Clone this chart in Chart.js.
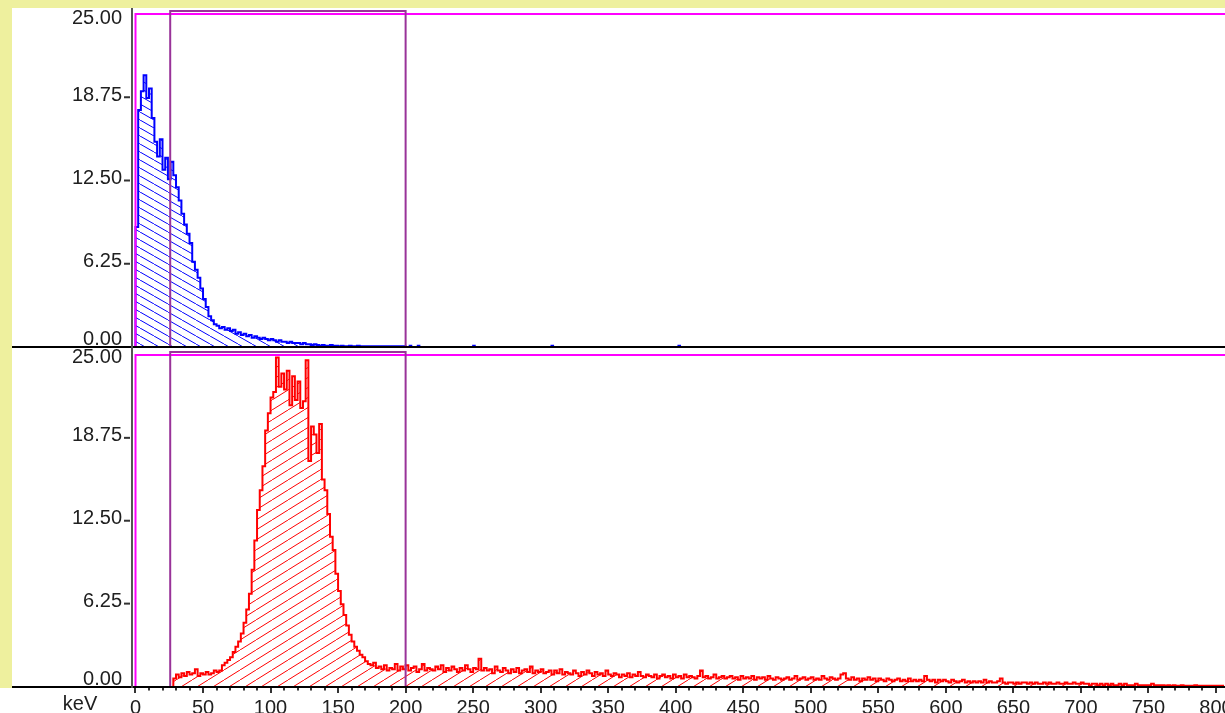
<!DOCTYPE html>
<html>
<head>
<meta charset="utf-8">
<script src="https://cdn.jsdelivr.net/npm/chart.js@4.4.1/dist/chart.umd.min.js"></script>
<style>
  html, body { margin: 0; padding: 0; background: #eef09e; }
  #wrap { width: 1225px; height: 713px; }
</style>
</head>
<body>
<div id="wrap"><canvas id="spectrum" width="1225" height="713"></canvas></div>
<script>
// counts per 2 keV channel
const binKeV = 2;

const blueStartKeV = 0;
const blueCounts = [
  9.0, 17.8, 19.2, 20.4, 18.7, 19.4, 17.2, 15.4, 14.3, 15.6,   // 0-18
  13.3, 14.2, 12.6, 13.9, 12.9, 12.0, 11.0, 10.0, 9.2, 8.5,    // 20-38
  7.8, 6.4, 5.8, 5.2, 4.4, 3.6, 3.0, 2.3, 2.0, 1.7,            // 40-58
  1.6, 1.4, 1.5, 1.3, 1.4, 1.2, 1.3, 1.0, 1.1, 0.9,            // 60-78
  1.0, 0.8, 0.9, 0.7, 0.8, 0.7, 0.6, 0.7, 0.6, 0.5,            // 80-98
  0.6, 0.5, 0.4, 0.5, 0.4, 0.4, 0.3, 0.4, 0.3, 0.3,            // 100-118
  0.3, 0.2, 0.3, 0.2, 0.2, 0.15, 0.2, 0.15, 0.1, 0.15,         // 120-138
  0.1, 0.1, 0.15, 0.1, 0.1, 0.05, 0.1, 0.05, 0.05, 0.1,        // 140-158
  0.05, 0.05, 0.1, 0.05, 0.05, 0.05, 0.05, 0.05, 0.05, 0.05,   // 160-178
  0.05, 0.05, 0.05, 0.05, 0.05, 0.05, 0.05, 0.05, 0.05, 0.05   // 180-198
];
// single stray counts past 200 keV
const blueBlipKeV = [203, 209, 250, 308, 402];
const blueBlipCounts = [0.1, 0.1, 0.1, 0.1, 0.1];

const redStartKeV = 28;
const redCounts = [
  0.6, 0.9, 0.7, 1.0, 0.8, 1.1,                                // 28-38
  0.9, 1.0, 1.3, 0.8, 1.0, 0.9, 1.1, 0.9, 1.0, 1.2,            // 40-58
  1.1, 1.2, 1.6, 1.8, 2.0, 2.2, 2.6, 3.0, 3.4, 4.0,            // 60-78
  4.8, 5.8, 7.0, 8.8, 11.0, 13.3, 14.8, 16.6, 19.3, 20.6,      // 80-98
  21.8, 22.2, 24.8, 22.6, 23.6, 22.4, 23.8, 21.2, 23.4, 21.6,  // 100-118
  23.0, 21.0, 21.5, 24.6, 17.0, 19.6, 19.0, 17.6, 19.8, 15.6,  // 120-138
  14.8, 13.0, 11.3, 10.3, 8.5, 7.2, 6.2, 5.4, 4.6, 3.9,        // 140-158
  3.4, 3.0, 2.7, 2.4, 2.2, 1.9, 1.7, 1.6, 1.8, 1.4,            // 160-178
  1.5, 1.3, 1.6, 1.2, 1.4, 1.3, 1.7, 1.2, 1.5, 1.3,            // 180-198
  1.6, 1.2, 1.4, 1.5, 1.1, 1.3, 1.7, 1.2, 1.4, 1.3,            // 200-218
  1.2, 1.5, 1.3, 1.6, 1.1, 1.4, 1.2, 1.5, 1.3, 1.1,            // 220-238
  1.4, 1.2, 1.6, 1.3, 1.1, 1.4, 1.3, 2.1, 1.2, 1.4,            // 240-258
  1.2, 1.3, 1.0, 1.5, 1.2, 1.1, 1.4, 1.2, 1.0, 1.3,            // 260-278
  1.1, 1.4, 1.0, 1.2, 1.3, 1.1, 1.5, 1.0, 1.2, 1.1,            // 280-298
  1.3, 1.0, 1.1, 1.2, 0.9, 1.2, 1.0, 1.3, 0.9, 1.1,            // 300-318
  1.0, 0.9, 1.2, 1.0, 0.8, 1.1, 0.9, 1.2, 1.0, 0.8,            // 320-338
  1.1, 0.9, 1.0, 0.8, 1.2, 0.9, 0.8, 1.0, 0.9, 0.7,            // 340-358
  0.9, 0.8, 1.0, 0.7, 0.9, 0.8, 1.1, 0.8, 0.7, 0.9,            // 360-378
  0.8, 0.7, 0.9, 0.6, 0.8, 0.9, 0.7, 0.8, 0.6, 0.9,            // 380-398
  0.7, 0.8, 0.6, 0.9, 0.7, 0.8, 0.7, 0.6, 0.8, 1.2,            // 400-418
  0.7, 0.8, 0.6, 0.7, 0.9, 0.6, 0.7, 0.8, 0.6, 0.7,            // 420-438
  0.8, 0.6, 0.7, 0.5, 0.8, 0.6, 0.7, 0.6, 0.8, 0.5,            // 440-458
  0.7, 0.6, 0.7, 0.5, 0.8, 0.6, 0.5, 0.7, 0.6, 0.5,            // 460-478
  0.6, 0.7, 0.5, 0.6, 0.8, 0.5, 0.6, 0.7, 0.5, 0.6,            // 480-498
  0.7, 0.5, 0.6, 0.5, 0.8, 0.6, 0.5, 0.7, 0.6, 0.5,            // 500-518
  0.6, 0.9, 1.0, 0.6, 0.5, 0.7, 0.5, 0.6, 0.4, 0.6,            // 520-538
  0.5, 0.7, 0.5, 0.6, 0.4, 0.6, 0.5, 0.4, 0.6, 0.5,            // 540-558
  0.4, 0.5, 0.6, 0.4, 0.5, 0.4, 0.6, 0.4, 0.5, 0.4,            // 560-578
  0.5, 0.4, 0.8, 0.5, 0.4, 0.5, 0.3, 0.5, 0.4, 0.5,            // 580-598
  0.4, 0.3, 0.5, 0.4, 0.3, 0.4, 0.5, 0.3, 0.4, 0.3,            // 600-618
  0.4, 0.3, 0.4, 0.3, 0.5, 0.3, 0.4, 0.3, 0.3, 0.4,            // 620-638
  0.6, 0.3, 0.2, 0.3, 0.3, 0.2, 0.3, 0.2, 0.3, 0.3,            // 640-658
  0.2, 0.3, 0.2, 0.3, 0.2, 0.2, 0.3, 0.2, 0.3, 0.2,            // 660-678
  0.2, 0.3, 0.2, 0.2, 0.3, 0.2, 0.2, 0.3, 0.2, 0.2,            // 680-698
  0.3, 0.2, 0.2, 0.1, 0.2, 0.2, 0.1, 0.2, 0.1, 0.2,            // 700-718
  0.1, 0.2, 0.1, 0.1, 0.2, 0.1, 0.2, 0.1, 0.1, 0.1,            // 720-738
  0.2, 0.1, 0.1, 0.1, 0.1, 0.1, 0.2, 0.1, 0.1, 0.1,            // 740-758
  0.1, 0.05, 0.1, 0.05, 0.1, 0.05, 0.05, 0.1, 0.05, 0.05,      // 760-778
  0.05, 0.05, 0.1, 0.05, 0.05, 0.05, 0.05, 0.05, 0.05, 0.05,   // 780-798
  0.05, 0.05, 0.05                                             // 800-804
];

const yTickValues = [0, 6.25, 12.5, 18.75, 25];
const xTickValues = [0, 50, 100, 150, 200, 250, 300, 350, 400, 450, 500, 550, 600, 650, 700, 750, 800];
const windowKeV = 0;          // magenta window start
const roiKeV = [25.7, 200];   // purple region of interest

const W = 1225, H = 713;
const fontFamily = '"Liberation Sans", Arial, sans-serif';
const textColor = '#202020';

function toSteps(start, counts) {
  const pts = [{ x: start, y: 0 }];
  counts.forEach((c, i) => pts.push({ x: start + i * binKeV, y: c }));
  pts.push({ x: start + counts.length * binKeV, y: counts[counts.length - 1] });
  return pts;
}

const bluePoints = toSteps(blueStartKeV, blueCounts);
bluePoints.push({ x: blueStartKeV + blueCounts.length * binKeV, y: 0 });
blueBlipKeV.forEach((k, i) => {
  bluePoints.push({ x: k, y: blueBlipCounts[i] });
  bluePoints.push({ x: k + 1.2, y: 0 });
});
const redPoints = toSteps(redStartKeV, redCounts);

function hatch(color, w, h, rising) {
  const tile = document.createElement('canvas');
  tile.width = w;
  tile.height = h;
  const c = tile.getContext('2d');
  c.strokeStyle = color;
  c.lineWidth = 1;
  c.beginPath();
  for (const dx of [-w, 0, w]) {
    if (rising) {
      c.moveTo(dx, h);
      c.lineTo(dx + w, 0);
    } else {
      c.moveTo(dx, 0);
      c.lineTo(dx + w, h);
    }
  }
  c.stroke();
  return c.createPattern(tile, 'repeat');
}

const panelsPlugin = {
  id: 'panels',
  beforeDraw(chart) {
    const ctx = chart.ctx;
    ctx.save();
    ctx.fillStyle = '#eef09e';
    ctx.fillRect(0, 0, W, H);
    ctx.fillStyle = '#ffffff';
    ctx.fillRect(12, 8, W - 12, H - 8);
    ctx.fillRect(0, 688, W, H - 688);
    ctx.restore();
  },
  afterDatasetsDraw(chart) {
    const { ctx, chartArea, scales } = chart;
    const x = scales.x;
    const ySep = scales.yTop.getPixelForValue(0);
    const yAxis = scales.yBottom.getPixelForValue(0);
    const panels = [
      { s: scales.yTop, top: 8, bottom: ySep },
      { s: scales.yBottom, top: ySep, bottom: yAxis }
    ];
    ctx.save();

    // window + ROI markers
    panels.forEach(({ s }) => {
      const y25 = s.getPixelForValue(25);
      const y0 = s.getPixelForValue(0);
      const xw = x.getPixelForValue(windowKeV);
      ctx.lineWidth = 2;
      ctx.strokeStyle = '#ff00ff';
      ctx.beginPath();
      ctx.moveTo(xw, y0);
      ctx.lineTo(xw, y25);
      ctx.lineTo(chartArea.right, y25);
      ctx.stroke();
      const r0 = x.getPixelForValue(roiKeV[0]);
      const r1 = x.getPixelForValue(roiKeV[1]);
      ctx.strokeStyle = '#993399';
      ctx.beginPath();
      ctx.moveTo(r0, y0);
      ctx.lineTo(r0, y25 - 3);
      ctx.lineTo(r1, y25 - 3);
      ctx.lineTo(r1, y0);
      ctx.stroke();
    });

    // separator and axis lines
    ctx.fillStyle = '#000000';
    ctx.fillRect(12, ySep - 1, W - 12, 2);
    ctx.fillRect(12, yAxis - 0.5, W - 12, 2);
    ctx.fillStyle = '#555555';
    ctx.fillRect(chartArea.left - 2, 8, 2, yAxis + 1.5 - 8);

    // x ticks: long at labels, short every 10 keV
    ctx.fillStyle = '#333333';
    for (let k = 0; k <= 800; k += 10) {
      const px = Math.round(x.getPixelForValue(k));
      const major = xTickValues.includes(k);
      ctx.fillRect(px - 1, yAxis + 1.5, 2, major ? 5 : 2.5);
    }

    // y tick labels, kept inside each panel
    ctx.font = '20px ' + fontFamily;
    ctx.textAlign = 'right';
    ctx.textBaseline = 'middle';
    panels.forEach(({ s, top, bottom }) => {
      yTickValues.forEach((v) => {
        const py = s.getPixelForValue(v);
        if (v > 0 && v < 25) {
          ctx.fillStyle = '#333333';
          ctx.fillRect(124, py - 1, 6, 2);
        }
        const ly = Math.min(Math.max(py - 2, top + 10), bottom - 7.5);
        ctx.fillStyle = textColor;
        ctx.fillText(v.toFixed(2), 122, ly);
      });
    });

    ctx.textAlign = 'center';
    ctx.fillText('keV', 80, 704);
    ctx.restore();
  }
};

const ctx = document.getElementById('spectrum');
new Chart(ctx, {
  type: 'line',
  data: {
    datasets: [
      {
        label: 'Detector 1',
        data: bluePoints,
        yAxisID: 'yTop',
        borderColor: '#0000ff',
        borderWidth: 2,
        backgroundColor: hatch('#0000ff', 14, 8, false),
        fill: 'origin',
        stepped: 'before',
        pointRadius: 0,
        borderJoinStyle: 'miter'
      },
      {
        label: 'Detector 2',
        data: redPoints,
        yAxisID: 'yBottom',
        borderColor: '#ff0000',
        borderWidth: 2,
        backgroundColor: hatch('#ff0000', 16, 10, true),
        fill: 'origin',
        stepped: 'before',
        pointRadius: 0,
        borderJoinStyle: 'miter'
      }
    ]
  },
  options: {
    responsive: false,
    animation: false,
    devicePixelRatio: 1,
    layout: { padding: { top: 14, left: 0, right: 0, bottom: 0 } },
    plugins: {
      legend: { display: false },
      tooltip: { enabled: false }
    },
    scales: {
      x: {
        type: 'linear',
        min: -1.85,
        max: 806.7,
        grid: { display: false },
        border: { display: false },
        ticks: {
          autoSkip: false,
          maxRotation: 0,
          padding: 2,
          color: textColor,
          font: { family: fontFamily, size: 20 },
          callback: (v) => String(v)
        },
        afterBuildTicks: (scale) => {
          scale.ticks = xTickValues.map((v) => ({ value: v }));
        },
        afterFit: (scale) => {
          scale.height = H - 686.5;
          scale.paddingLeft = 0;
          scale.paddingRight = 0;
        }
      },
      yBottom: {
        type: 'linear',
        position: 'left',
        stack: 'panels',
        stackWeight: 339.5,
        weight: 1,
        min: 0,
        max: 25.6,
        grid: { display: false },
        border: { display: false },
        ticks: { display: false },
        afterFit: (scale) => { scale.width = 133; }
      },
      yTop: {
        type: 'linear',
        position: 'left',
        stack: 'panels',
        stackWeight: 333,
        weight: 2,
        min: 0,
        max: 25,
        grid: { display: false },
        border: { display: false },
        ticks: { display: false },
        afterFit: (scale) => { scale.width = 133; }
      }
    }
  },
  plugins: [panelsPlugin]
});
</script>
</body>
</html>
